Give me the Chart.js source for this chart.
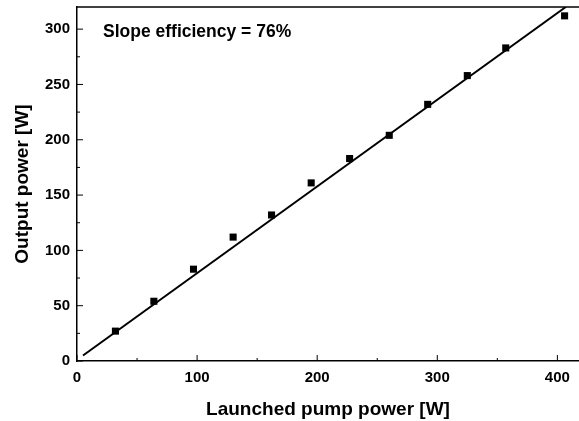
<!DOCTYPE html>
<html>
<head>
<meta charset="utf-8">
<script src="https://cdn.jsdelivr.net/npm/chart.js@4"></script>
<style>
  html, body { margin: 0; padding: 0; background: #fff; }
  #wrap { width: 579px; height: 421px; }
</style>
</head>
<body>
<div id="wrap"><canvas id="grafico" width="579" height="421"></canvas></div>
<script>
// Datos medidos
const bombeo = [32, 64, 97, 130, 162, 195, 227, 260, 292, 325, 357, 406];
const salida = [27, 54, 83, 112, 132, 161, 183, 204, 232, 258, 283, 312];
// Ajuste lineal
const ajusteX = [5, 407];
const ajusteY = [5, 320];
const ticksX = [0, 100, 200, 300, 400];
const ticksY = [0, 50, 100, 150, 200, 250, 300];

const fuente = "'Liberation Sans', Arial, sans-serif";

// ticks hacia adentro y borde superior
const marcoPlugin = {
  id: 'marco',
  afterDraw(chart) {
    const { ctx, chartArea, scales } = chart;
    ctx.save();
    ctx.strokeStyle = '#000';
    ctx.lineWidth = 1.5;
    ctx.beginPath();
    ctx.moveTo(chartArea.left, chartArea.top);
    ctx.lineTo(chartArea.right, chartArea.top);
    ctx.stroke();
    ctx.lineWidth = 1;
    ctx.beginPath();
    for (let v = 0; v <= scales.x.max; v += 50) {
      const px = scales.x.getPixelForValue(v);
      const largo = v % 100 === 0 ? 6 : 3;
      ctx.moveTo(px, chartArea.bottom);
      ctx.lineTo(px, chartArea.bottom - largo);
    }
    for (let v = 0; v <= scales.y.max; v += 25) {
      const py = scales.y.getPixelForValue(v);
      const largo = v % 50 === 0 ? 6 : 3;
      ctx.moveTo(chartArea.left, py);
      ctx.lineTo(chartArea.left + largo, py);
    }
    ctx.stroke();
    ctx.fillStyle = '#000';
    ctx.font = 'bold 17.5px ' + fuente;
    ctx.textBaseline = 'middle';
    ctx.fillText('Slope efficiency = 76%', chartArea.left + 26, 32);
    ctx.restore();
  }
};

new Chart(document.getElementById('grafico'), {
  type: 'scatter',
  data: {
    datasets: [
      {
        label: 'Medido',
        data: bombeo.map((x, i) => ({ x: x, y: salida[i] })),
        pointStyle: 'rect',
        pointRadius: 5,
        pointBorderWidth: 0,
        backgroundColor: '#000',
        borderColor: '#000'
      },
      {
        label: 'Ajuste',
        type: 'line',
        data: ajusteX.map((x, i) => ({ x: x, y: ajusteY[i] })),
        borderColor: '#000',
        borderWidth: 2,
        pointRadius: 0,
        fill: false
      }
    ]
  },
  options: {
    responsive: false,
    animation: false,
    layout: { autoPadding: false, padding: { top: 7, right: 0, left: 0, bottom: 0 } },
    plugins: { legend: { display: false }, tooltip: { enabled: false } },
    scales: {
      x: {
        type: 'linear',
        min: 0,
        max: 418,
        afterBuildTicks: s => { s.ticks = ticksX.map(v => ({ value: v })); },
        afterFit: s => { s.height = 60; s.paddingLeft = 0; s.paddingRight = 0; },
        grid: { display: false, drawTicks: false },
        border: { display: true, color: '#000', width: 1.5 },
        ticks: { color: '#000', padding: 8, maxRotation: 0, font: { family: fuente, size: 15, weight: 'bold' } },
        title: {
          display: true,
          text: 'Launched pump power [W]',
          color: '#000',
          padding: { top: -1, bottom: 0 },
          font: { family: fuente, size: 19, weight: 'bold' }
        }
      },
      y: {
        type: 'linear',
        min: 0,
        max: 320,
        afterBuildTicks: s => { s.ticks = ticksY.map(v => ({ value: v })); },
        afterFit: s => { s.width = 77; s.paddingTop = 0; s.paddingBottom = 0; },
        grid: { display: false, drawTicks: false },
        border: { display: true, color: '#000', width: 1.5 },
        ticks: { color: '#000', padding: 7, font: { family: fuente, size: 15, weight: 'bold' } },
        title: {
          display: true,
          text: 'Output power [W]',
          color: '#000',
          padding: { top: 11, bottom: 0 },
          font: { family: fuente, size: 19, weight: 'bold' }
        }
      }
    }
  },
  plugins: [marcoPlugin]
});
</script>
</body>
</html>
